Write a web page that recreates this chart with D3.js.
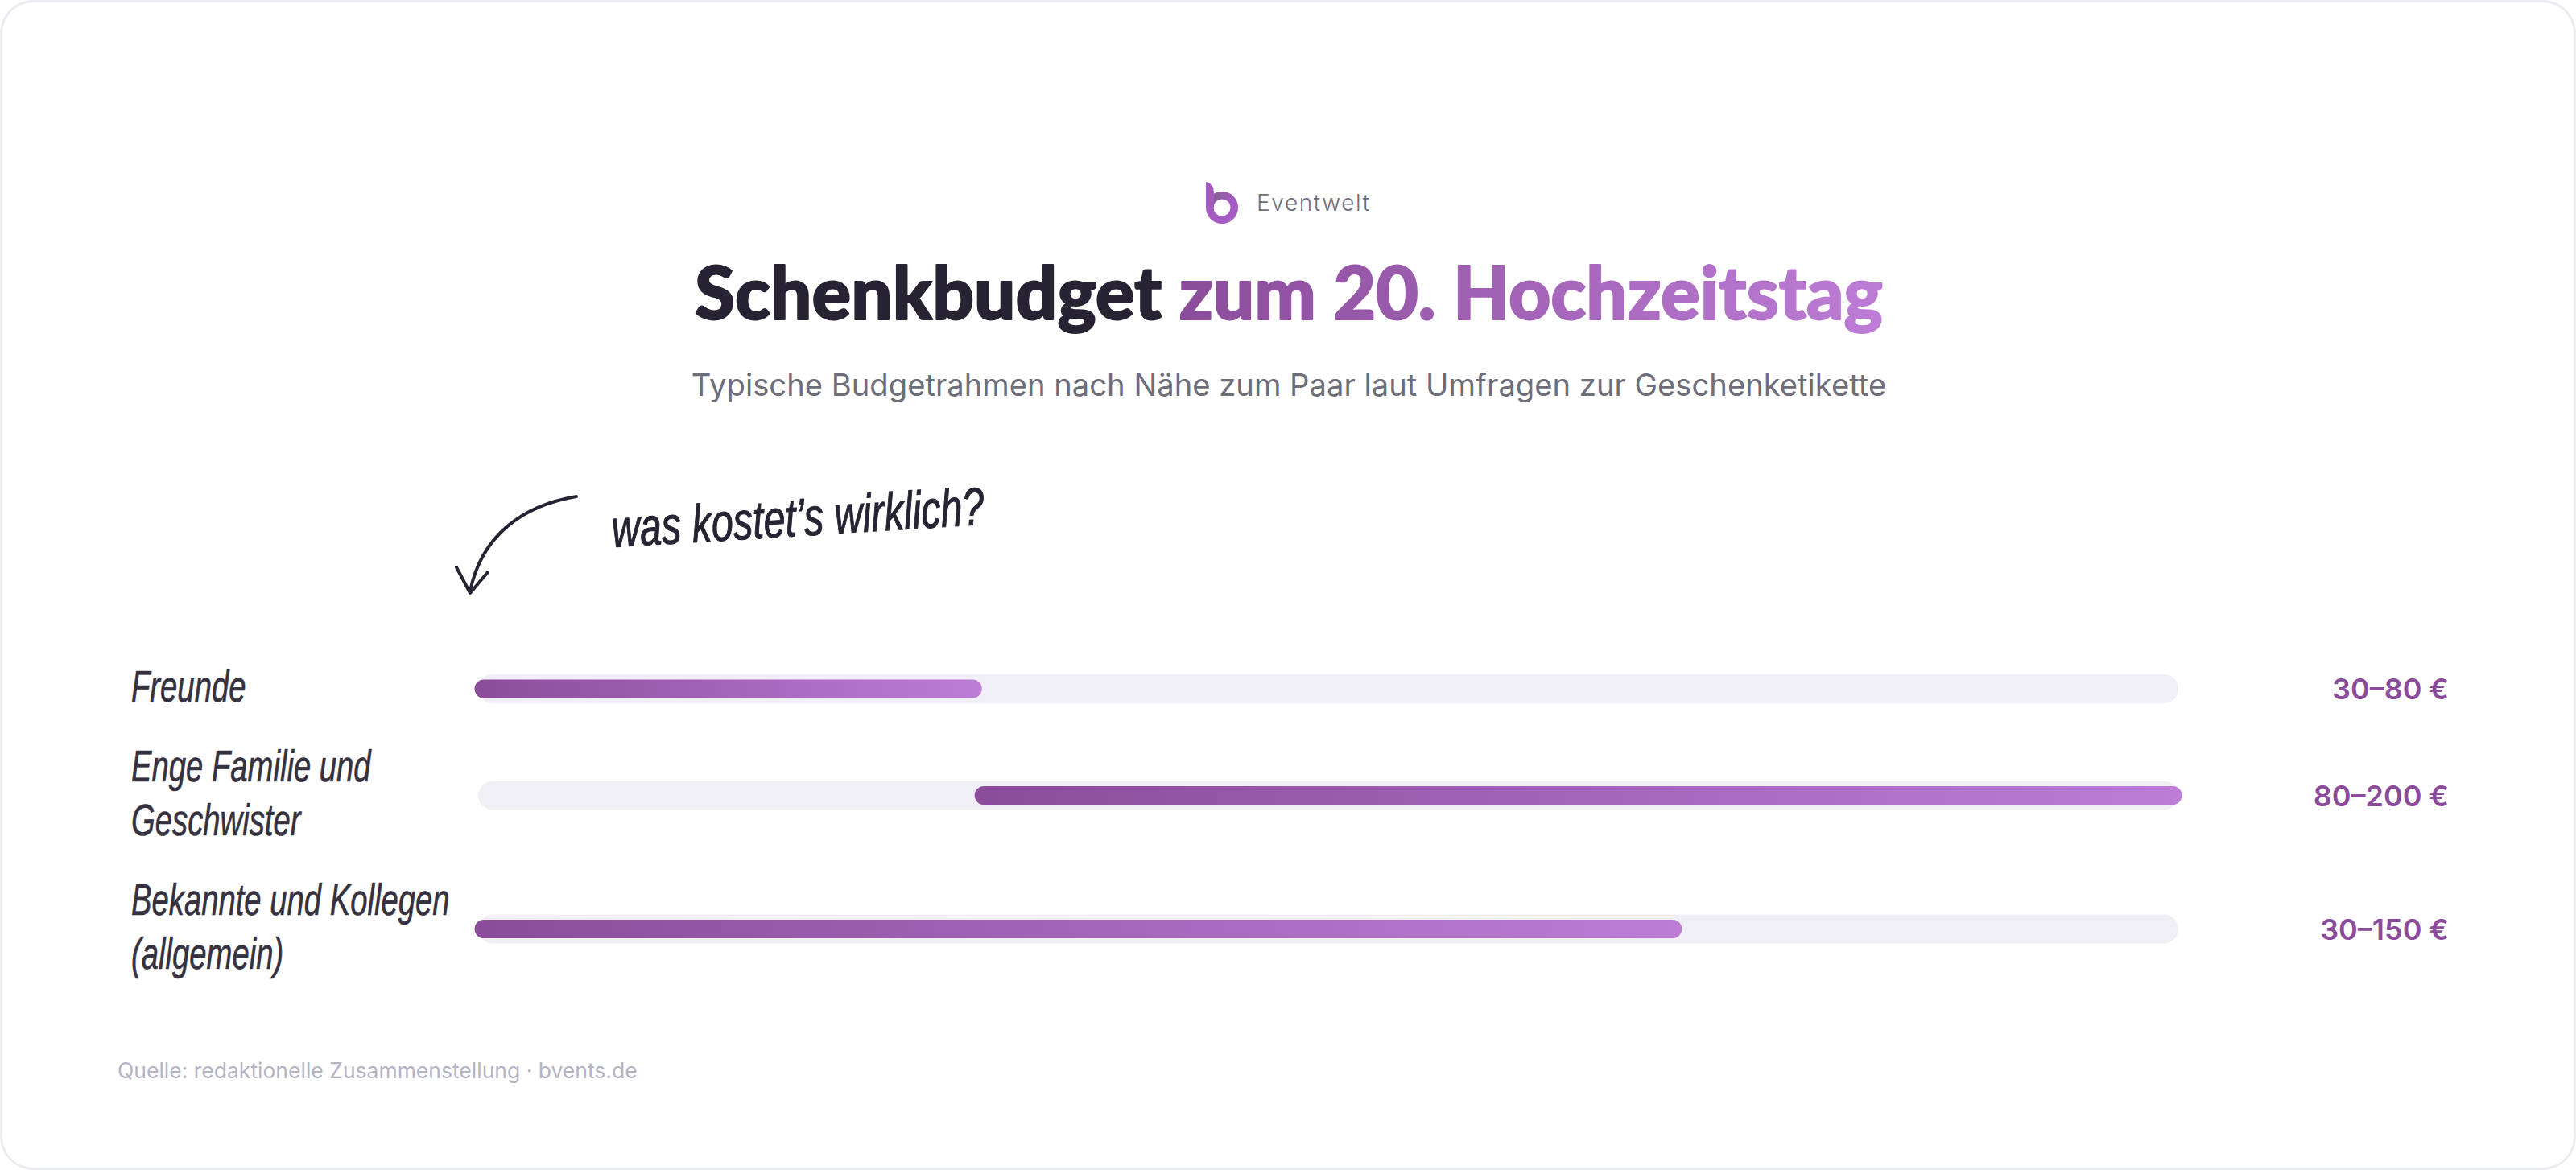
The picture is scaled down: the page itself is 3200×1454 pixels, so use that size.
<!DOCTYPE html>
<html>
<head>
<meta charset="utf-8">
<script src="https://cdn.jsdelivr.net/npm/d3@7"></script>
<style>
  html, body { margin: 0; padding: 0; background: #fff; }
  svg { display: block; }
</style>
</head>
<body>
<svg width="3200" height="1454"></svg>
<script>
// values
const categoryLines = [['Freunde'], ['Enge Familie und', 'Geschwister'], ['Bekannte und Kollegen', '(allgemein)']];
const lows = [30, 80, 30];
const highs = [80, 200, 150];
const valueLabels = ['30–80 €', '80–200 €', '30–150 €'];

const handFont = '"Liberation Sans", sans-serif';
const sansFont = 'Inter, "Noto Sans", sans-serif';
const svg = d3.select('svg');
const width = 3200, height = 1454;

const x = d3.scaleLinear().domain([30, 200]).range([594, 2706]);
const trackH = 36, fillH = 23, overhang = 4.5;
const lineH = 67, gap = 32;
const firstCenter = 856;

// rows grow with the number of label lines
const centers = [];
let rowTop = firstCenter - lineH / 2;
categoryLines.forEach(lines => {
  const h = lines.length * lineH;
  centers.push(rowTop + h / 2);
  rowTop += h + gap;
});

const defs = svg.append('defs');
const grad = (id, a, b, x1, x2) => {
  const g = defs.append('linearGradient').attr('id', id);
  if (x1 !== undefined) g.attr('gradientUnits', 'userSpaceOnUse').attr('x1', x1).attr('x2', x2).attr('y1', 0).attr('y2', 0);
  g.append('stop').attr('offset', 0).attr('stop-color', a);
  g.append('stop').attr('offset', 1).attr('stop-color', b);
};
grad('barGrad', '#8b4c9b', '#bd7dd6');
grad('titleGrad', '#8b4c9b', '#bd7dd6', 1470, 2341);
grad('logoShade', '#85608f', '#a45cc4', 1508, 1532);

// card
svg.append('rect').attr('x', 1.5).attr('y', 1.5).attr('width', width - 3).attr('height', height - 3)
  .attr('rx', 40).attr('fill', '#fff').attr('stroke', '#ebebf3').attr('stroke-width', 3);

// logo
const logo = svg.append('g');
logo.append('path')
  .attr('fill-rule', 'evenodd').attr('fill', '#a45cc4')
  .attr('d', 'M1498,258 A20,20 0 1 0 1538,258 A20,20 0 1 0 1498,258 Z M1507.5,258 A10.5,10.5 0 1 0 1528.5,258 A10.5,10.5 0 1 0 1507.5,258 Z');
logo.append('path').attr('fill', '#a45cc4')
  .attr('d', 'M1498,226 C1504,227 1508,232 1508,240 L1508,258 L1498,258 Z');
logo.append('path').attr('fill', 'url(#logoShade)')
  .attr('d', 'M1508,241 A20,20 0 0 1 1530,242 L1525,250 A10.5,10.5 0 0 0 1508,254 Z');

svg.append('text').attr('x', 1561).attr('y', 262).attr('font-family', sansFont).attr('font-weight', 300).attr('font-size', 28)
  .attr('letter-spacing', 1.6).attr('fill', '#6e6e7a').text('Eventwelt');

// title, sized to the width it has in the original
const title = svg.append('text').attr('x', 1601).attr('y', 397).attr('text-anchor', 'middle')
  .attr('font-family', 'Lato, sans-serif').attr('font-weight', 900).attr('font-size', 92)
  .attr('stroke-width', 2).attr('stroke-linejoin', 'round');
title.append('tspan').attr('fill', '#272333').attr('stroke', '#272333').text('Schenkbudget ');
title.append('tspan').attr('fill', 'url(#titleGrad)').attr('stroke', 'url(#titleGrad)').text('zum 20. Hochzeitstag');
title.attr('font-size', 92 * 1476 / title.node().getComputedTextLength());

svg.append('text').attr('x', 1601).attr('y', 492).attr('text-anchor', 'middle')
  .attr('font-family', sansFont).attr('font-size', 38.2).attr('fill', '#6e6e7a')
  .text('Typische Budgetrahmen nach Nähe zum Paar laut Umfragen zur Geschenketikette');

// note + arrow, no handwriting font here so squeeze an italic
svg.append('text').attr('transform', 'translate(761,680) rotate(-3.5) scale(0.81,1.1)')
  .attr('font-family', handFont).attr('font-style', 'italic').attr('font-size', 60).attr('fill', '#272333')
  .attr('stroke', '#272333').attr('stroke-width', 1)
  .text('was kostet’s wirklich?');
svg.append('path').attr('d', 'M716,617 C650,628 598,665 584,735').attr('fill', 'none')
  .attr('stroke', '#272333').attr('stroke-width', 4).attr('stroke-linecap', 'round');
svg.append('path').attr('d', 'M567,705 L584,737 L606,711').attr('fill', 'none')
  .attr('stroke', '#272333').attr('stroke-width', 4).attr('stroke-linecap', 'round').attr('stroke-linejoin', 'round');

// rows
const rows = svg.selectAll('g.row').data(categoryLines).join('g').attr('class', 'row')
  .attr('transform', (d, i) => `translate(0,${centers[i]})`);

rows.append('rect').attr('x', x(30)).attr('y', -trackH / 2)
  .attr('width', x(200) - x(30)).attr('height', trackH).attr('rx', 18).attr('fill', '#f1eff6');

rows.append('rect')
  .attr('x', (d, i) => x(lows[i]) - overhang)
  .attr('y', -fillH / 2)
  .attr('width', (d, i) => x(highs[i]) - x(lows[i]) + overhang * 2)
  .attr('height', fillH).attr('rx', 11.5).attr('fill', 'url(#barGrad)');

rows.each(function (lines) {
  const n = lines.length;
  d3.select(this).selectAll('text.cat').data(lines).join('text').attr('class', 'cat')
    .attr('transform', (l, k) => `translate(163,${(k - (n - 1) / 2) * lineH + 16}) scale(0.765,1.1)`)
    .attr('font-family', handFont).attr('font-style', 'italic').attr('font-size', 50).attr('fill', '#35313f')
    .attr('stroke', '#35313f').attr('stroke-width', 0.6)
    .text(l => l);
});

svg.selectAll('text.val').data(valueLabels).join('text').attr('class', 'val')
  .attr('x', 3042).attr('y', (d, i) => centers[i] + 13)
  .attr('text-anchor', 'end').attr('font-family', sansFont).attr('font-weight', 600).attr('font-size', 36)
  .attr('fill', '#8b4c9b').text(d => d);

// source
svg.append('text').attr('x', 146).attr('y', 1340).attr('font-family', sansFont).attr('font-size', 26.5)
  .attr('fill', '#b4b3c4').text('Quelle: redaktionelle Zusammenstellung · bvents.de');
</script>
</body>
</html>
